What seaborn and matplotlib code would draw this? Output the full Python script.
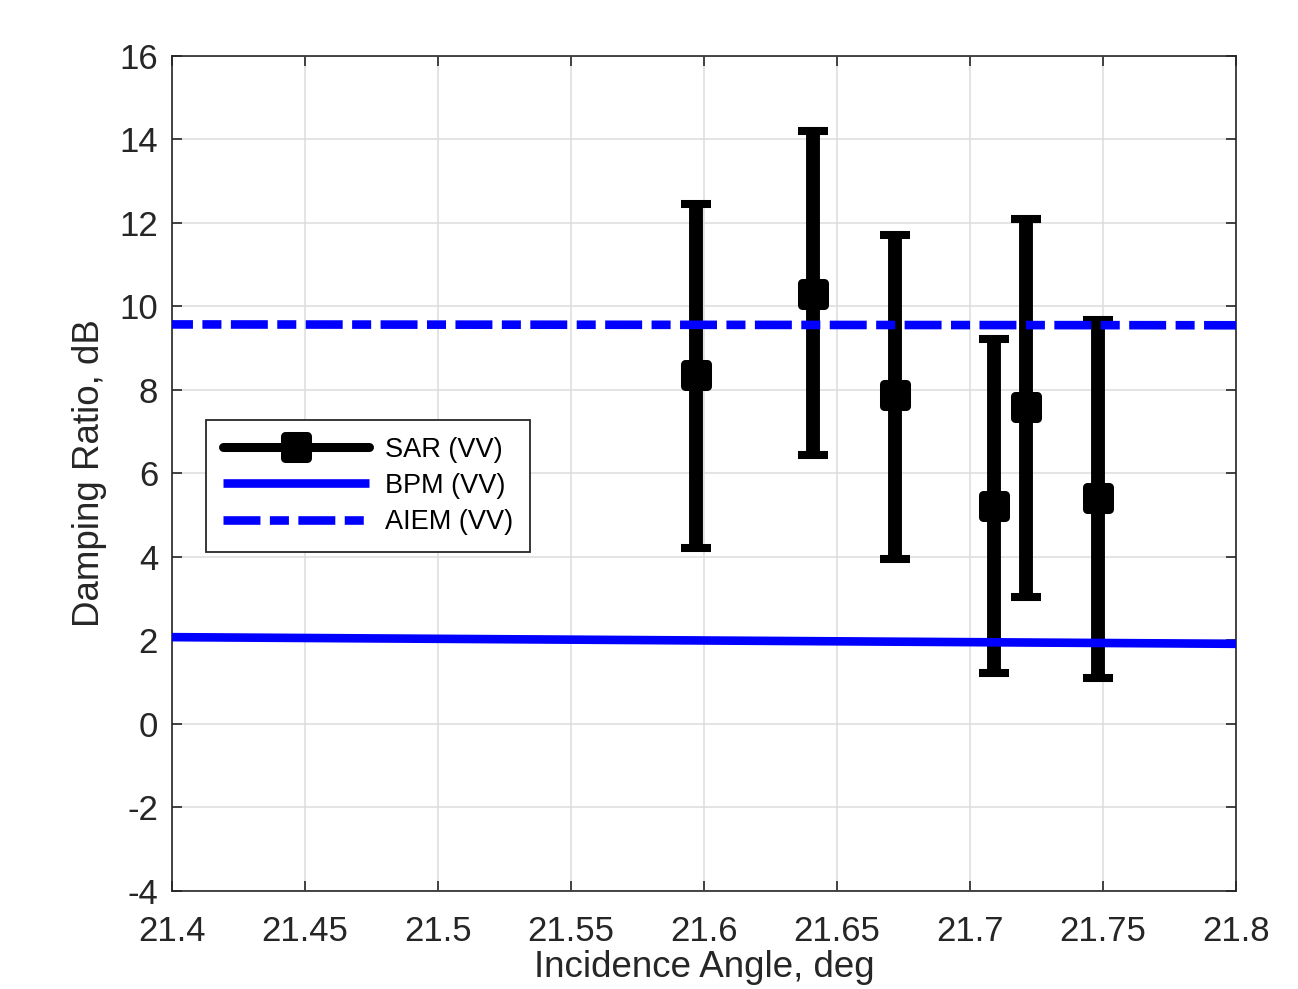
import numpy as np
import pandas as pd
import matplotlib
matplotlib.use("Agg")
import matplotlib.pyplot as plt
from matplotlib.lines import Line2D
from matplotlib.markers import MarkerStyle
import seaborn as sns

# SAR (VV) damping ratio: mean with lower/upper bounds, per incidence angle
sar_angle = [21.597, 21.641, 21.672, 21.709, 21.721, 21.748]
sar_mean = [8.35, 10.29, 7.87, 5.21, 7.59, 5.41]
sar_low = [4.22, 6.44, 3.95, 1.21, 3.05, 1.11]
sar_high = [12.45, 14.20, 11.72, 9.23, 12.09, 9.68]

# Model predictions over the angle range
model_angle = [21.4, 21.8]
bpm_vv = [2.08, 1.92]
aiem_vv = [9.57, 9.55]

x_ticks = [21.4, 21.45, 21.5, 21.55, 21.6, 21.65, 21.7, 21.75, 21.8]
y_ticks = [-4, -2, 0, 2, 4, 6, 8, 10, 12, 14, 16]

sns.set_theme(style="whitegrid")
plt.rcParams["font.family"] = ["Liberation Sans", "DejaVu Sans"]
plt.rcParams["lines.scale_dashes"] = False

axis_col = "#262626"
fig = plt.figure(figsize=(12.98, 9.89), dpi=100)
ax = fig.add_axes([0.1325, 0.0991, 0.8197, 0.8443])
ax.set_facecolor("white")

# SAR error bars and markers
yerr = np.array([np.subtract(sar_mean, sar_low), np.subtract(sar_high, sar_mean)])
sq = MarkerStyle("s", joinstyle="round")
ax.errorbar(sar_angle, sar_mean, yerr=yerr, fmt="none", ecolor="black",
            elinewidth=10, capsize=10.8, capthick=5.8, zorder=3)
ax.plot(sar_angle, sar_mean, linestyle="none", marker=sq, markersize=16.5,
        markeredgewidth=6.5, color="black", zorder=3.5)

# Model lines
df = pd.DataFrame({
    "angle": model_angle * 2,
    "ratio": bpm_vv + aiem_vv,
    "model": ["BPM (VV)"] * len(model_angle) + ["AIEM (VV)"] * len(model_angle),
})
sns.lineplot(data=df[df["model"] == "BPM (VV)"], x="angle", y="ratio",
             color="blue", linewidth=6.2, ax=ax, zorder=4, legend=False)
sns.lineplot(data=df[df["model"] == "AIEM (VV)"], x="angle", y="ratio",
             color="blue", linewidth=6.2, ax=ax, zorder=4, legend=False,
             linestyle=(11.5, (26.6, 6.8, 13.7, 6.8)))
for ln in ax.get_lines()[-2:]:
    ln.set_solid_capstyle("butt")
    ln.set_dash_capstyle("butt")

ax.set_xlim(21.4, 21.8)
ax.set_ylim(-4, 16)
ax.set_xticks(x_ticks)
ax.set_xticklabels([f"{t:g}" for t in x_ticks])
ax.set_yticks(y_ticks)
ax.set_yticklabels([f"{t:g}" for t in y_ticks])

ax.grid(True, color="#dcdcdc", linewidth=1.1)
for s in ax.spines.values():
    s.set_visible(True)
    s.set_color(axis_col)
    s.set_linewidth(1.2)
ax.tick_params(axis="both", which="both", direction="in", length=7, width=1.2,
               color=axis_col, labelcolor=axis_col, labelsize=25,
               top=True, right=True, bottom=True, left=True)
ax.tick_params(axis="x", pad=17)
ax.tick_params(axis="y", pad=10)

ax.set_xlabel("Incidence Angle, deg", fontsize=26.5, color=axis_col)
ax.set_ylabel("Damping Ratio, dB", fontsize=26.5, color=axis_col)
ax.xaxis.set_label_coords(0.5, -0.071)
ax.yaxis.set_label_coords(-0.061, 0.5)

handles = [
    Line2D([], [], color="black", linewidth=6.5, marker=sq, markersize=16.5,
           markeredgewidth=6.5),
    Line2D([], [], color="blue", linewidth=6.2, solid_capstyle="butt"),
    Line2D([], [], color="blue", linewidth=6.2, dash_capstyle="butt",
           linestyle=(0, (26.6, 6.8, 13.7, 6.8))),
]
leg = ax.legend(handles, ["SAR (VV)", "BPM (VV)", "AIEM (VV)"],
                loc="lower left", bbox_to_anchor=(0.032, 0.406),
                borderaxespad=0, fontsize=19.5, handlelength=5.4,
                handletextpad=0.6, labelspacing=0.38, borderpad=0.62,
                fancybox=False, framealpha=1, edgecolor=axis_col)
leg.get_frame().set_linewidth(1.3)
for t in leg.get_texts():
    t.set_color("black")

fig.savefig("out.png", dpi=100)
